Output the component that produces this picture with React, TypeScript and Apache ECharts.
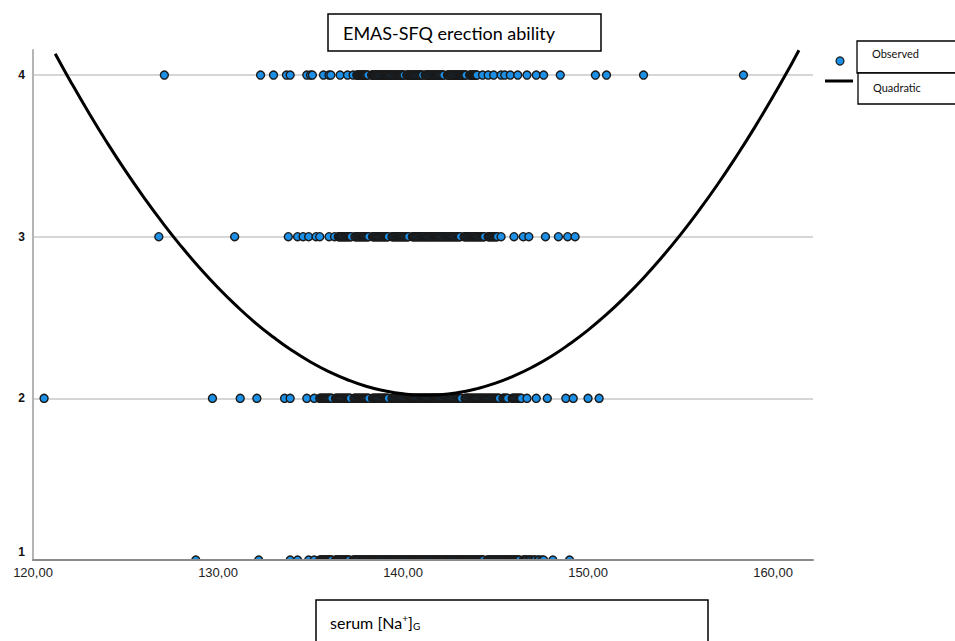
import React, { useEffect, useRef } from "react";
import * as echarts from "echarts";

// serum [Na+]G values observed at each EMAS-SFQ level (isolated points)
const level4Sparse = [
  127.1, 132.3, 133.0, 133.7, 133.9, 134.8, 135.0, 135.1, 135.7, 136.0, 136.1, 136.6, 137.0, 137.3,
  144.3, 144.6, 144.9, 145.3, 145.5, 145.8, 146.2, 146.7, 147.2, 147.6, 148.5, 150.4, 151.0, 153.0, 158.4,
];
// values in the crowded band of level 4
const level4Dense = [
  137.5, 137.55, 137.6, 137.65, 137.7, 137.75, 137.8, 137.85, 137.9, 137.95,
  138.0, 138.05, 138.1, 138.3, 138.35, 138.4, 138.45, 138.5, 138.55, 138.6, 138.65, 138.7, 138.75, 138.8, 138.85, 138.9, 138.95,
  139.0, 139.05, 139.1, 139.15, 139.2, 139.25, 139.3, 139.35, 139.4, 139.45, 139.5, 139.55, 139.6, 139.65, 139.7, 139.75, 139.8, 139.85, 139.9, 139.95,
  140.0, 140.05, 140.2, 140.25, 140.3, 140.35, 140.4, 140.45, 140.5, 140.55, 140.6, 140.65, 140.7, 140.75, 140.8, 140.85, 140.9, 140.95,
  141.0, 141.05, 141.2, 141.25, 141.3, 141.35, 141.4, 141.45, 141.5, 141.55, 141.6, 141.65, 141.7, 141.75, 141.8, 141.85, 141.9, 141.95,
  142.0, 142.05, 142.1, 142.15, 142.2, 142.4, 142.45, 142.5, 142.55, 142.6, 142.65, 142.7, 142.75, 142.8, 142.85, 142.9, 142.95,
  143.0, 143.05, 143.1, 143.15, 143.2, 143.25, 143.3, 143.35, 143.4, 143.6, 143.65, 143.7, 143.75, 143.8, 143.85, 143.9, 143.95, 144.0,
];
const level3Sparse = [
  126.8, 130.9, 133.8, 134.3, 134.6, 134.9, 135.3, 135.5, 136.0, 136.3,
  145.3, 146.0, 146.5, 146.8, 147.7, 148.4, 148.9, 149.3,
];
const level3Dense = [
  136.5, 136.55, 136.6, 136.65, 136.7, 136.75, 136.8, 136.85, 136.9, 136.95,
  137.0, 137.05, 137.1, 137.15, 137.2, 137.4, 137.45, 137.5, 137.55, 137.6, 137.65, 137.7, 137.75, 137.8, 137.85, 137.9, 137.95,
  138.0, 138.05, 138.1, 138.15, 138.35, 138.4, 138.45, 138.5, 138.55, 138.6, 138.65, 138.7, 138.75, 138.8, 138.85, 138.9, 138.95,
  139.0, 139.05, 139.1, 139.15, 139.2, 139.4, 139.45, 139.5, 139.55, 139.6, 139.65, 139.7, 139.75, 139.8, 139.85, 139.9, 139.95,
  140.0, 140.05, 140.1, 140.15, 140.2, 140.25, 140.3, 140.5, 140.55, 140.6, 140.65, 140.7, 140.75, 140.8, 140.85, 140.9, 140.95,
  141.0, 141.05, 141.1, 141.15, 141.2, 141.25, 141.3, 141.35, 141.4, 141.45, 141.5, 141.55, 141.6, 141.65, 141.7, 141.75, 141.8, 141.85, 141.9, 141.95,
  142.0, 142.05, 142.1, 142.15, 142.2, 142.25, 142.3, 142.35, 142.4, 142.45, 142.5, 142.55, 142.6, 142.65, 142.7, 142.75, 142.8, 142.85, 142.9, 142.95,
  143.0, 143.05, 143.1, 143.3, 143.35, 143.4, 143.45, 143.5, 143.55, 143.6, 143.65, 143.7, 143.75, 143.8, 143.85, 143.9, 143.95,
  144.0, 144.05, 144.1, 144.15, 144.2, 144.25, 144.3, 144.35, 144.4, 144.6, 144.65, 144.7, 144.75, 144.8, 144.85, 144.9, 144.95,
  145.0, 145.05, 145.1,
];
const level2Sparse = [
  120.6, 129.7, 131.2, 132.1, 133.6, 133.9, 134.8, 135.2,
  146.7, 147.2, 147.8, 148.8, 149.2, 150.0, 150.6,
];
const level2Dense = [
  135.5, 135.55, 135.6, 135.65, 135.7, 135.75, 135.8, 135.85, 135.9, 135.95,
  136.0, 136.05, 136.1, 136.15, 136.35, 136.4, 136.45, 136.5, 136.55, 136.6, 136.65, 136.7, 136.75, 136.8, 136.85, 136.9, 136.95,
  137.0, 137.05, 137.1, 137.15, 137.35, 137.4, 137.45, 137.5, 137.55, 137.6, 137.65, 137.7, 137.75, 137.8, 137.85, 137.9, 137.95,
  138.0, 138.05, 138.1, 138.15, 138.35, 138.4, 138.45, 138.5, 138.55, 138.6, 138.65, 138.7, 138.75, 138.8, 138.85, 138.9, 138.95,
  139.0, 139.05, 139.1, 139.15, 139.2, 139.4, 139.45, 139.5, 139.55, 139.6, 139.65, 139.7, 139.75, 139.8, 139.85, 139.9, 139.95,
  140.0, 140.05, 140.1, 140.15, 140.2, 140.25, 140.3, 140.35, 140.4, 140.45, 140.5, 140.55, 140.6, 140.65, 140.7, 140.75, 140.8, 140.85, 140.9, 140.95,
  141.0, 141.05, 141.1, 141.15, 141.2, 141.25, 141.3, 141.35, 141.4, 141.45, 141.5, 141.55, 141.6, 141.65, 141.7, 141.75, 141.8, 141.85, 141.9, 141.95,
  142.0, 142.05, 142.1, 142.15, 142.2, 142.25, 142.3, 142.35, 142.4, 142.45, 142.5, 142.55, 142.6, 142.65, 142.7, 142.75, 142.8, 142.85, 142.9, 142.95,
  143.0, 143.05, 143.1, 143.15, 143.35, 143.4, 143.45, 143.5, 143.55, 143.6, 143.65, 143.7, 143.75, 143.8, 143.85, 143.9, 143.95,
  144.0, 144.05, 144.1, 144.15, 144.2, 144.25, 144.3, 144.35, 144.4, 144.45, 144.5, 144.55, 144.6, 144.65, 144.7, 144.75, 144.8, 144.85, 144.9, 144.95,
  145.0, 145.05, 145.1, 145.15, 145.2, 145.4, 145.45, 145.5, 145.55, 145.6, 145.65, 145.9, 145.95,
  146.0, 146.05, 146.1, 146.15, 146.2, 146.25, 146.3, 146.35, 146.4,
];
const level1Sparse = [
  128.8, 132.2, 133.9, 134.3, 134.9, 135.2,
  148.1, 149.0,
];
const level1Dense = [
  135.5, 135.55, 135.6, 135.65, 135.7, 135.75, 135.8, 135.85, 135.9, 135.95,
  136.0, 136.05, 136.1, 136.15, 136.35, 136.4, 136.45, 136.5, 136.55, 136.6, 136.65, 136.7, 136.75, 136.8, 136.85, 136.9, 136.95,
  137.0, 137.05, 137.1, 137.3, 137.35, 137.4, 137.45, 137.5, 137.55, 137.6, 137.65, 137.7, 137.75, 137.8, 137.85, 137.9, 137.95,
  138.0, 138.05, 138.1, 138.15, 138.2, 138.25, 138.3, 138.35, 138.4, 138.45, 138.5, 138.55, 138.6, 138.65, 138.7, 138.75, 138.8, 138.85, 138.9, 138.95,
  139.0, 139.05, 139.1, 139.15, 139.2, 139.25, 139.3, 139.35, 139.4, 139.45, 139.5, 139.55, 139.6, 139.65, 139.7, 139.75, 139.8, 139.85, 139.9, 139.95,
  140.0, 140.05, 140.1, 140.15, 140.2, 140.25, 140.3, 140.35, 140.4, 140.45, 140.5, 140.55, 140.6, 140.65, 140.7, 140.75, 140.8, 140.85, 140.9, 140.95,
  141.0, 141.05, 141.1, 141.15, 141.2, 141.25, 141.3, 141.35, 141.4, 141.45, 141.5, 141.55, 141.6, 141.65, 141.7, 141.75, 141.8, 141.85, 141.9, 141.95,
  142.0, 142.05, 142.1, 142.15, 142.2, 142.25, 142.3, 142.35, 142.4, 142.45, 142.5, 142.55, 142.6, 142.65, 142.7, 142.75, 142.8, 142.85, 142.9, 142.95,
  143.0, 143.05, 143.1, 143.15, 143.2, 143.25, 143.3, 143.35, 143.4, 143.45, 143.5, 143.55, 143.6, 143.65, 143.7, 143.75, 143.8, 143.85, 143.9, 143.95,
  144.0, 144.05, 144.1, 144.15, 144.2, 144.25, 144.3, 144.35, 144.55, 144.6, 144.65, 144.7, 144.75, 144.8, 144.85, 144.9, 144.95,
  145.0, 145.05, 145.1, 145.15, 145.2, 145.25, 145.3, 145.35, 145.4, 145.45, 145.5, 145.55, 145.6, 145.65, 145.7, 145.75, 145.8, 145.85, 145.9, 145.95,
  146.0, 146.05, 146.1, 146.15, 146.2, 146.25, 146.3, 146.5, 146.55, 146.6, 146.65, 146.7, 146.8, 146.85, 146.9, 147.0,
  147.1, 147.15, 147.3, 147.35, 147.5, 147.6,
];
const levels = [4, 3, 2, 1];
const levelSparse = [level4Sparse, level3Sparse, level2Sparse, level1Sparse];
const levelDense = [level4Dense, level3Dense, level2Dense, level1Dense];

// Quadratic fit line
const curveX = [
  121.2, 122, 123, 124, 125, 126, 127, 128, 129, 130, 131, 132, 133, 134, 135, 136, 137, 138, 139, 140, 141,
  142, 143, 144, 145, 146, 147, 148, 149, 150, 151, 152, 153, 154, 155, 156, 157, 158, 159, 160, 161, 161.4,
];
const curveY = [
  4.132, 3.967, 3.77, 3.583, 3.407, 3.242, 3.087, 2.942, 2.808, 2.685, 2.572, 2.469, 2.378, 2.296, 2.225, 2.165, 2.115, 2.075, 2.047, 2.028, 2.02,
  2.023, 2.036, 2.06, 2.094, 2.139, 2.194, 2.259, 2.336, 2.422, 2.519, 2.627, 2.745, 2.874, 3.013, 3.163, 3.323, 3.494, 3.675, 3.867, 4.069, 4.153,
];

const xTickStep = 10;
const yTickStep = 1;

const titleText = "EMAS-SFQ erection ability";
const legendObserved = "Observed";
const legendQuadratic = "Quadratic";

const POINT_FILL = "#1c8fe6";
const POINT_BORDER = "#1a1a1a";

export default function App() {
  const ref = useRef<HTMLDivElement>(null);

  useEffect(() => {
    document.body.style.margin = "0";
    if (!ref.current) return;
    const chart = echarts.init(ref.current, null, { renderer: "svg" });

    const observed: number[][] = [];
    levels.forEach((lv, i) => {
      const vals = levelSparse[i].concat(levelDense[i]).sort((a, b) => a - b);
      vals.forEach((x) => observed.push([x, lv]));
    });
    const curve = curveX.map((x, i) => [x, curveY[i]]);

    const option: any = {
      animation: false,
      backgroundColor: "#ffffff",
      grid: { left: 33, right: 142, top: 50, bottom: 81, containLabel: false },
      xAxis: {
        type: "value",
        min: 120,
        max: 162.16,
        interval: xTickStep,
        axisLine: { show: true, lineStyle: { color: "#8a8a8a", width: 2 } },
        axisTick: { show: false },
        splitLine: { show: false },
        z: 12,
        axisLabel: {
          showMaxLabel: false,
          margin: 6,
          color: "#222",
          fontSize: 13,
          fontFamily: "Liberation Sans",
          formatter: (v: number) => v.toFixed(2).replace(".", ","),
        },
      },
      yAxis: {
        type: "value",
        min: 1,
        max: 4.155,
        interval: yTickStep,
        axisLine: { show: true, lineStyle: { color: "#b4b4b4", width: 2 } },
        axisTick: { show: false },
        splitLine: {
          show: true,
          showMinLine: false,
          showMaxLine: false,
          lineStyle: { color: "#d6d6d6", width: 2 },
        },
        axisLabel: {
          showMaxLabel: false,
          margin: 8,
          color: "#111",
          fontSize: 12,
          fontWeight: "bold",
          fontFamily: "Liberation Sans",
          formatter: (v: number) => (v === 1 ? "{low|1}" : "{n|" + v + "}"),
          rich: {
            n: { fontSize: 12, fontWeight: "bold", fontFamily: "Liberation Sans", color: "#111" },
            low: { fontSize: 12, fontWeight: "bold", fontFamily: "Liberation Sans", color: "#111", padding: [0, 0, 16, 0] },
          },
        },
      },
      series: [
        {
          name: legendObserved,
          type: "scatter",
          data: observed,
          symbol: "circle",
          symbolSize: 8,
          clip: true,
          itemStyle: { color: POINT_FILL, borderColor: POINT_BORDER, borderWidth: 1.4, opacity: 1 },
          z: 2,
        },
        {
          name: legendQuadratic,
          type: "line",
          data: curve,
          smooth: 0.5,
          symbol: "none",
          clip: true,
          lineStyle: { color: "#000", width: 3 },
          z: 3,
        },
      ],
      graphic: [
        // hides the part of the bottom-row markers that lies below the plot area
        {
          type: "rect",
          z: 10,
          shape: { x: 34, y: 561, width: 790, height: 5 },
          style: { fill: "#fff" },
        },
        {
          type: "rect",
          shape: { x: 328, y: 14, width: 273, height: 37 },
          style: { fill: "#fff", stroke: "#000", lineWidth: 1.5 },
        },
        {
          type: "text",
          x: 343,
          y: 33,
          style: {
            text: titleText,
            fontSize: 18,
            fontFamily: "Lato",
            fill: "#000",
            verticalAlign: "middle",
          },
        },
        // legend
        {
          type: "circle",
          shape: { cx: 840, cy: 61, r: 4 },
          style: { fill: POINT_FILL, stroke: POINT_BORDER, lineWidth: 1.2 },
        },
        {
          type: "rect",
          shape: { x: 857, y: 41, width: 110, height: 32 },
          style: { fill: "#fff", stroke: "#000", lineWidth: 1.3 },
        },
        {
          type: "text",
          x: 872,
          y: 53,
          style: { text: legendObserved, fontSize: 11, fontFamily: "Lato", fill: "#111", verticalAlign: "middle" },
        },
        {
          type: "line",
          shape: { x1: 825, y1: 81, x2: 853, y2: 81 },
          style: { stroke: "#000", lineWidth: 3 },
        },
        {
          type: "rect",
          shape: { x: 858, y: 73, width: 110, height: 31 },
          style: { fill: "#fff", stroke: "#000", lineWidth: 1.3 },
        },
        {
          type: "text",
          x: 873,
          y: 87,
          style: { text: legendQuadratic, fontSize: 11, fontFamily: "Lato", fill: "#111", verticalAlign: "middle" },
        },
        // x axis name box
        {
          type: "rect",
          shape: { x: 316, y: 600, width: 392, height: 60 },
          style: { fill: "#fff", stroke: "#000", lineWidth: 1.5 },
        },
        {
          type: "text",
          x: 330,
          y: 622,
          style: {
            text: "{n|serum [Na}{sup|+}{n|]}{sub|G}",
            fontFamily: "Lato",
            fill: "#000",
            verticalAlign: "middle",
            rich: {
              n: { fontSize: 16, fontFamily: "Lato", fill: "#000" },
              sup: { fontSize: 10, fontFamily: "Lato", fill: "#000", verticalAlign: "top", padding: [0, 0, 8, 0] },
              sub: { fontSize: 10, fontFamily: "Lato", fill: "#000", padding: [8, 0, 0, 0] },
            },
          },
        },
      ],
    };

    chart.setOption(option);
    return () => chart.dispose();
  }, []);

  return <div ref={ref} style={{ width: 955, height: 641 }} />;
}
